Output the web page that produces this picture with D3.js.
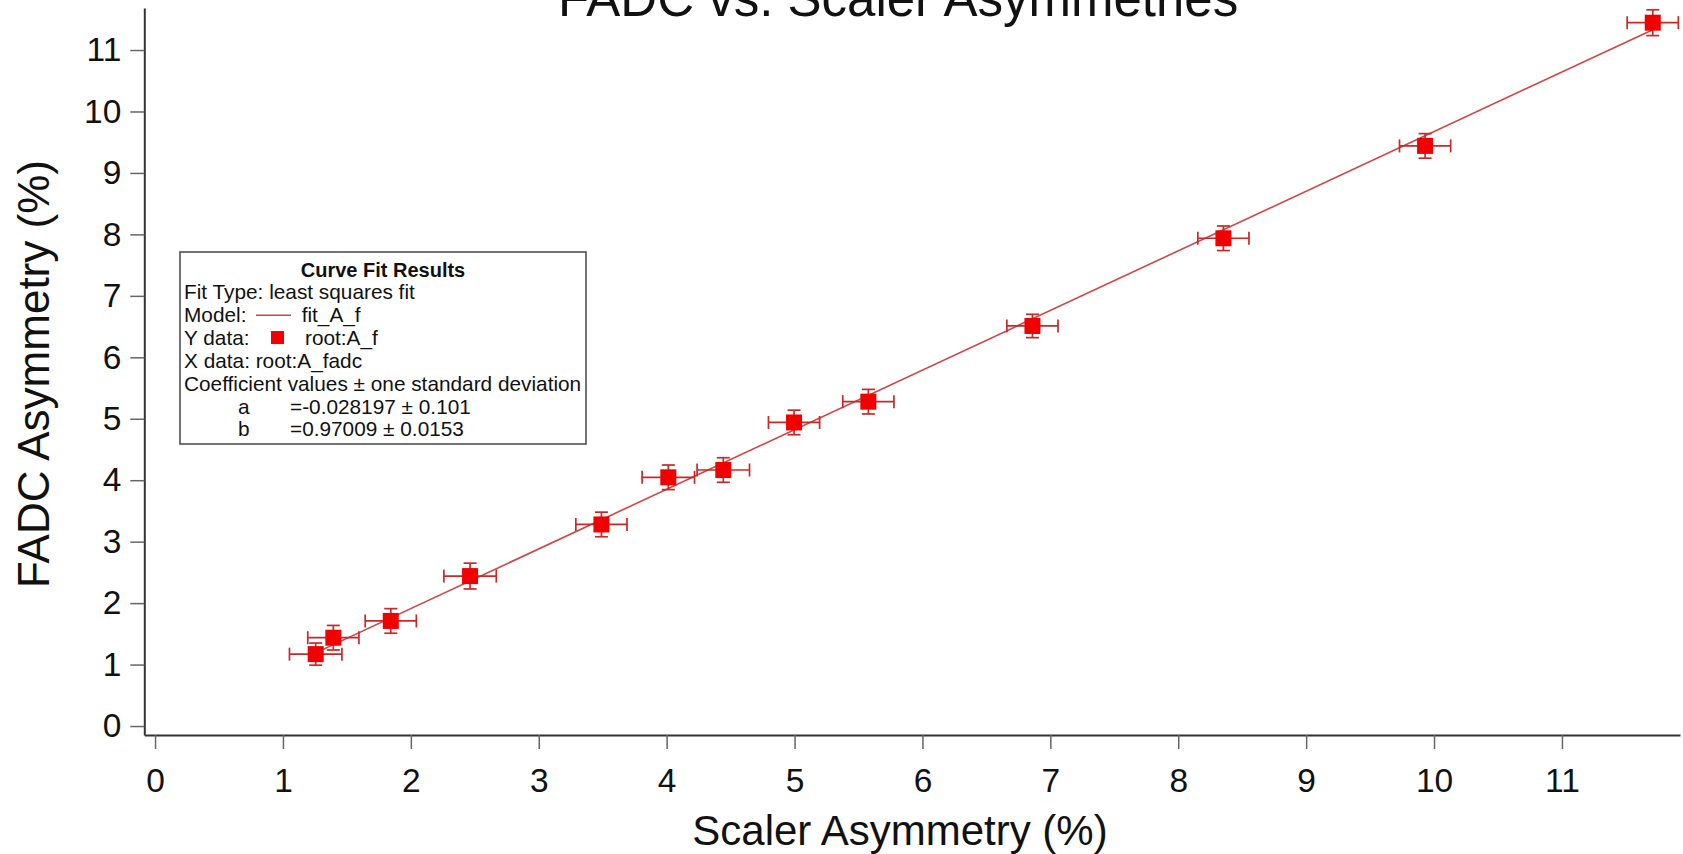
<!DOCTYPE html>
<html>
<head>
<meta charset="utf-8">
<script src="https://cdn.jsdelivr.net/npm/d3@7"></script>
<style>
  body { margin: 0; background: #fff; }
  svg { display: block; font-family: "Liberation Sans", Arial, sans-serif; }
  .tick text { fill: #111; }
</style>
</head>
<body>
<div id="chart"></div>
<script>
// measured points: scaler asymmetry (x) vs FADC asymmetry (y), with errors
const xVals = [1.256, 1.394, 1.843, 2.463, 3.49, 4.013, 4.443, 4.996, 5.577, 6.86, 8.353, 9.93, 11.71];
const yVals = [1.17, 1.437, 1.71, 2.44, 3.28, 4.047, 4.166, 4.94, 5.278, 6.51, 7.937, 9.44, 11.445];
const xErr = [0.205, 0.2, 0.2, 0.205, 0.2, 0.205, 0.205, 0.2, 0.2, 0.2, 0.2, 0.2, 0.2];
const yErr = [0.18, 0.2, 0.2, 0.21, 0.2, 0.2, 0.2, 0.2, 0.2, 0.19, 0.2, 0.2, 0.21];

// fit coefficients y = a + b*x
const fitA = -0.028197;
const fitB = 0.97009;

const xTickValues = [0, 1, 2, 3, 4, 5, 6, 7, 8, 9, 10, 11];
const yTickValues = [0, 1, 2, 3, 4, 5, 6, 7, 8, 9, 10, 11];

const width = 1683, height = 854;
const red = '#f00000';
const barColor = '#c82828';
const lineColor = '#d04545';

const svg = d3.select('#chart')
  .append('svg')
  .attr('width', width)
  .attr('height', height);

// scales (axis lines run past the first/last ticks, Igor style)
const x = d3.scaleLinear().domain([-0.084, 11.923]).range([144.3, 1680]);
const y = d3.scaleLinear().domain([-0.146, 11.684]).range([735, 8]);

// x axis
const xAxis = svg.append('g')
  .attr('transform', 'translate(0,735)')
  .call(d3.axisBottom(x).tickValues(xTickValues).tickSizeInner(14).tickSizeOuter(0).tickPadding(19));
xAxis.select('.domain').attr('stroke', '#333').attr('stroke-width', 2);
xAxis.selectAll('.tick line').attr('stroke', '#666').attr('stroke-width', 1.5);
xAxis.selectAll('.tick text').style('font-size', '33.5px');

// y axis
const yAxis = svg.append('g')
  .attr('transform', 'translate(144.3,0)')
  .call(d3.axisLeft(y).tickValues(yTickValues).tickSizeInner(14).tickSizeOuter(0).tickPadding(9));
yAxis.select('.domain').attr('stroke', '#333').attr('stroke-width', 2);
yAxis.selectAll('.tick line').attr('stroke', '#666').attr('stroke-width', 1.5);
yAxis.selectAll('.tick text').style('font-size', '33.5px');

// title (runs off the top edge)
svg.append('text')
  .attr('x', 558)
  .attr('y', 16)
  .style('font-size', '51px')
  .attr('fill', '#111')
  .text('FADC vs. Scaler Asymmetries');

// axis labels
svg.append('text')
  .attr('x', 900)
  .attr('y', 845)
  .attr('text-anchor', 'middle')
  .style('font-size', '42px')
  .attr('fill', '#111')
  .text('Scaler Asymmetry (%)');

svg.append('text')
  .attr('transform', 'translate(48.5,374) rotate(-90)')
  .attr('text-anchor', 'middle')
  .style('font-size', '44px')
  .attr('fill', '#111')
  .text('FADC Asymmetry (%)');

// fit line over the data range
const fitX = [d3.min(xVals), d3.max(xVals)];
svg.append('path')
  .datum(fitX)
  .attr('fill', 'none')
  .attr('stroke', lineColor)
  .attr('stroke-width', 1.6)
  .attr('d', d3.line().x(d => x(d)).y(d => y(fitA + fitB * d)));

const pts = xVals.map((v, i) => ({ x: v, y: yVals[i], ex: xErr[i], ey: yErr[i] }));
const cap = 6.5;

const bars = svg.append('g')
  .attr('stroke', barColor)
  .attr('stroke-width', 1.7)
  .attr('fill', 'none');

pts.forEach(d => {
  const cx = x(d.x), cy = y(d.y);
  const x0 = x(d.x - d.ex), x1 = x(d.x + d.ex);
  const y0 = y(d.y - d.ey), y1 = y(d.y + d.ey);
  bars.append('line').attr('x1', x0).attr('x2', x1).attr('y1', cy).attr('y2', cy);
  bars.append('line').attr('x1', x0).attr('x2', x0).attr('y1', cy - cap).attr('y2', cy + cap);
  bars.append('line').attr('x1', x1).attr('x2', x1).attr('y1', cy - cap).attr('y2', cy + cap);
  bars.append('line').attr('x1', cx).attr('x2', cx).attr('y1', y0).attr('y2', y1);
  bars.append('line').attr('x1', cx - cap).attr('x2', cx + cap).attr('y1', y0).attr('y2', y0);
  bars.append('line').attr('x1', cx - cap).attr('x2', cx + cap).attr('y1', y1).attr('y2', y1);
});

const msize = 16;
svg.append('g')
  .selectAll('rect')
  .data(pts)
  .enter().append('rect')
  .attr('x', d => x(d.x) - msize / 2)
  .attr('y', d => y(d.y) - msize / 2)
  .attr('width', msize)
  .attr('height', msize)
  .attr('fill', red);

// curve fit results box
const legend = svg.append('g').style('font-size', '20.8px').attr('fill', '#111');
legend.append('rect')
  .attr('x', 180).attr('y', 252)
  .attr('width', 406).attr('height', 192)
  .attr('fill', '#fff')
  .attr('stroke', '#444')
  .attr('stroke-width', 1.5);

const lh = 22.85, base = 276.5, left = 184;
legend.append('text')
  .attr('x', 383).attr('y', base)
  .attr('text-anchor', 'middle')
  .style('font-weight', 'bold')
  .style('font-size', '20px')
  .text('Curve Fit Results');
legend.append('text').attr('x', left).attr('y', base + lh).text('Fit Type: least squares fit');
legend.append('text').attr('x', left).attr('y', base + lh * 2).text('Model:');
legend.append('line')
  .attr('x1', 256).attr('x2', 291)
  .attr('y1', base + lh * 2 - 7).attr('y2', base + lh * 2 - 7)
  .attr('stroke', lineColor).attr('stroke-width', 1.6);
legend.append('text').attr('x', 301.7).attr('y', base + lh * 2).text('fit_A_f');
legend.append('text').attr('x', left).attr('y', base + lh * 3).text('Y data:');
legend.append('rect')
  .attr('x', 271).attr('y', base + lh * 3 - 14)
  .attr('width', 13).attr('height', 13)
  .attr('fill', red);
legend.append('text').attr('x', 305).attr('y', base + lh * 3).text('root:A_f');
legend.append('text').attr('x', left).attr('y', base + lh * 4).text('X data: root:A_fadc');
legend.append('text').attr('x', left).attr('y', base + lh * 5).text('Coefficient values \u00b1 one standard deviation');
legend.append('text').attr('x', 238).attr('y', base + lh * 6).text('a');
legend.append('text').attr('x', 290).attr('y', base + lh * 6).text('=-0.028197 \u00b1 0.101');
legend.append('text').attr('x', 238).attr('y', base + lh * 7).text('b');
legend.append('text').attr('x', 290).attr('y', base + lh * 7).text('=0.97009 \u00b1 0.0153');
</script>
</body>
</html>
